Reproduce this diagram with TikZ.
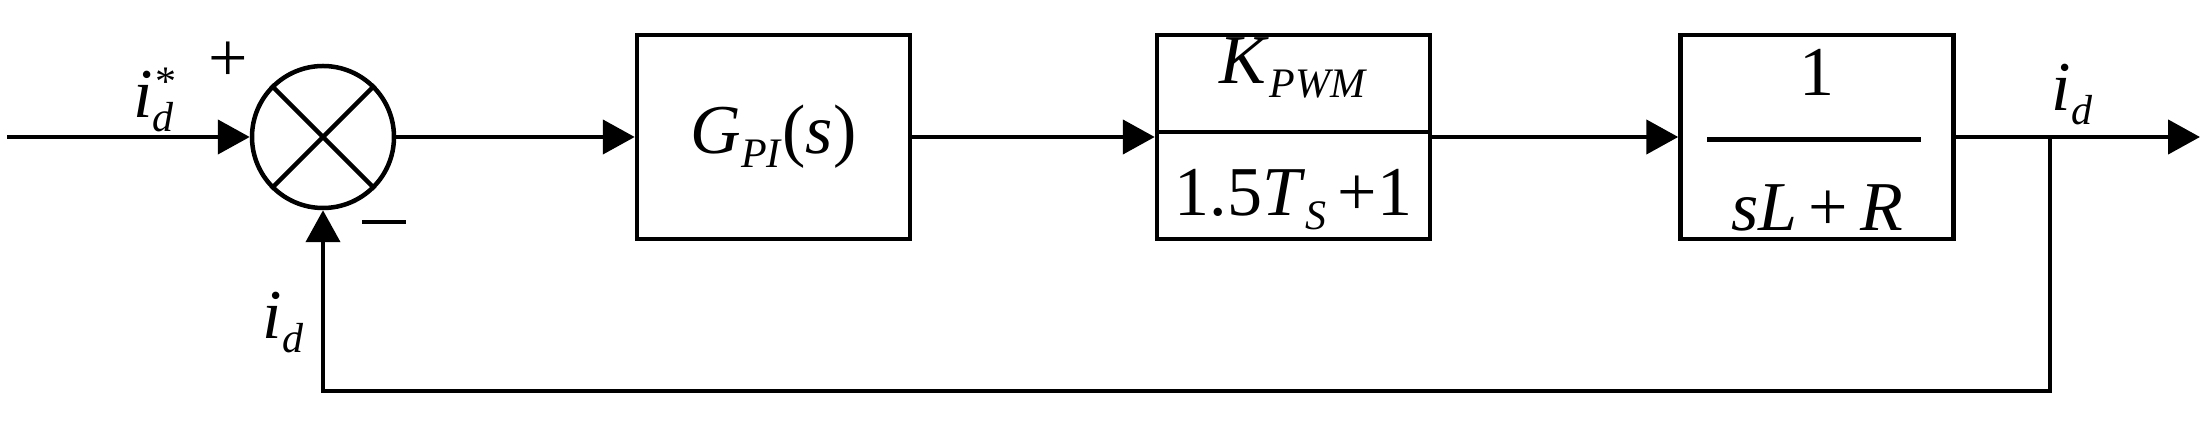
\documentclass[tikz,border=0pt]{standalone}
\usepackage{fontspec}
\setmainfont{Liberation Serif}
\usetikzlibrary{arrows.meta}
\newcommand{\sbs}[1]{\raisebox{-14pt}{\fontsize{42}{44}\selectfont #1}}
\newcommand{\sps}[1]{\raisebox{22pt}{\fontsize{42}{44}\selectfont #1}}
\begin{document}
\begin{tikzpicture}[x=1pt,y=1pt,line width=4.5pt,
  blk/.style={draw,minimum width=273pt,minimum height=204pt,inner sep=0pt},
  arr/.style={-{Triangle[length=32pt,width=34pt]}},
  lbl/.style={font=\fontsize{70}{74}\selectfont,inner sep=0pt}]
\useasboundingbox (0,0) rectangle (2205,430);
\coordinate (in) at (7,293);
\node[draw,circle,minimum size=142pt,inner sep=0pt] (sum) at (323,293) {};
\draw (sum.45) -- (sum.225) (sum.135) -- (sum.-45);
\node[blk] (g) at (773.5,293) {};
\node[lbl] at (g) {\textit{G}\sbs{\textit{PI}}(\textit{s})};
\node[blk] (k) at (1293.5,293) {};
\node[blk] (p) at (1817,293) {};
\draw[line width=4.5pt] (k.west|-0,298) -- (k.east|-0,298);
\node[lbl] at (1293.5,362) {\textit{K}\sbs{\textit{PWM}}};
\node[lbl] at (1293.5,230) {1.5\textit{T}\sbs{\textit{S}}\,+1};
\draw[line width=5pt] (1707,290) -- (1921,290);
\node[lbl] at (1817,358) {1};
\node[lbl] at (1817,222) {\textit{sL}\,+\,\textit{R}};
\coordinate (br) at (2050,293);
\coordinate (out) at (2200,293);
\coordinate (fb) at (2050,39);
\coordinate (fs) at (323,39);
\draw[arr] (in) -- (sum);
\draw[arr] (sum) -- (g);
\draw[arr] (g) -- (k);
\draw[arr] (k) -- (p);
\draw[arr] (p) -- (out);
\draw[arr] (br) -- (fb) -- (fs) -- (sum);
\node[lbl] at (155,330) {\textit{i}\sbs{\textit{d}}\hspace{-18pt}\sps{*}};
\node[lbl] at (228,368) {+};
\node[lbl] at (384,208) {\rule{44pt}{4pt}};
\node[lbl] at (283,107) {\textit{i}\sbs{\textit{d}}};
\node[lbl] at (2072,335) {\textit{i}\sbs{\textit{d}}};
\end{tikzpicture}
\end{document}
